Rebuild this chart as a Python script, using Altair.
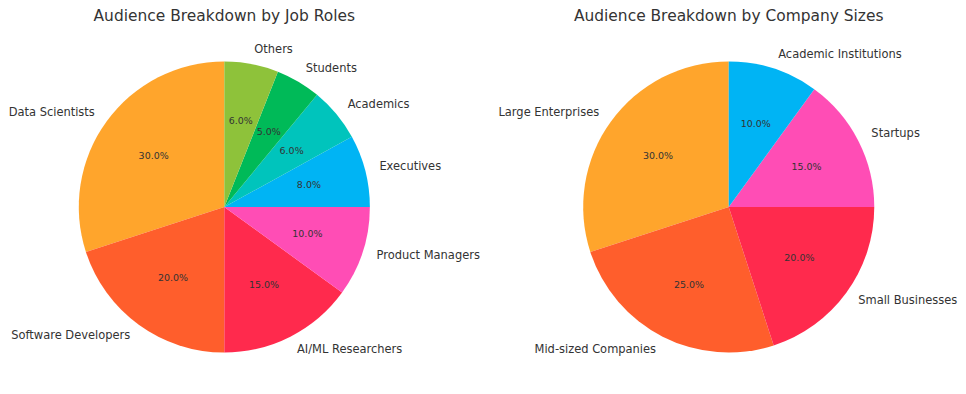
import altair as alt
import pandas as pd

# Job roles pie
role_labels = ["Data Scientists", "Software Developers", "AI/ML Researchers", "Product Managers",
               "Executives", "Academics", "Students", "Others"]
role_values = [30, 20, 15, 10, 8, 6, 5, 6]
role_colors = ["#FFA52C", "#FF5E2C", "#FF2A4D", "#FF4DB5", "#00B4F4", "#00C4BC", "#00BA58", "#8EC23A"]

# Company sizes pie
size_labels = ["Large Enterprises", "Mid-sized Companies", "Small Businesses", "Startups",
               "Academic Institutions"]
size_values = [30, 25, 20, 15, 10]
size_colors = ["#FFA52C", "#FF5E2C", "#FF2A4D", "#FF4DB5", "#00B4F4"]

TITLES = ["Audience Breakdown by Job Roles", "Audience Breakdown by Company Sizes"]

R = 146
FONT = "DejaVu Sans"
TXT = "#333333"


def pie(labels, values, colors, title):
    df = pd.DataFrame({"label": labels, "value": values, "idx": list(range(len(labels)))})
    base = alt.Chart(df).transform_window(
        cum="sum(value)",
        sort=[alt.SortField("idx", order="descending")],
        frame=[None, 0],
    ).transform_calculate(
        mid="datum.cum - datum.value / 2",
        pct="format(datum.value, '.1f') + '%'",
    )
    tscale = alt.Scale(domain=[0, 100])
    arcs = base.mark_arc(outerRadius=R).encode(
        theta=alt.Theta("value:Q", stack=True, scale=tscale),
        color=alt.Color("label:N", scale=alt.Scale(domain=labels, range=colors), legend=None),
        order=alt.Order("idx:Q", sort="descending"),
    )
    th = alt.Theta("mid:Q", stack=None, scale=tscale)
    pcts = base.mark_text(radius=R * 0.6, align="center", baseline="middle",
                          font=FONT, fontSize=9.5, color=TXT).encode(theta=th, text="pct:N")
    lab_r = base.transform_filter("datum.mid < 50").mark_text(
        radius=R * 1.1, align="left", baseline="middle", font=FONT, fontSize=11.5, color=TXT
    ).encode(theta=th, text="label:N")
    lab_l = base.transform_filter("datum.mid >= 50").mark_text(
        radius=R * 1.1, align="right", baseline="middle", font=FONT, fontSize=11.5, color=TXT
    ).encode(theta=th, text="label:N")
    return alt.layer(arcs, pcts, lab_r, lab_l).properties(
        width=432, height=354,
        title=alt.TitleParams(title, fontSize=15.5, font=FONT, color=TXT,
                              fontWeight="normal", offset=6, anchor="middle"),
    )


left = pie(role_labels, role_values, role_colors, TITLES[0])
right = pie(size_labels, size_values, size_colors, TITLES[1])

chart = alt.hconcat(left, right, spacing=74, bounds="flush").properties(
    padding=0
).configure_view(stroke=None)

chart.save("out.html", embed_options={"renderer": "svg", "actions": False})
